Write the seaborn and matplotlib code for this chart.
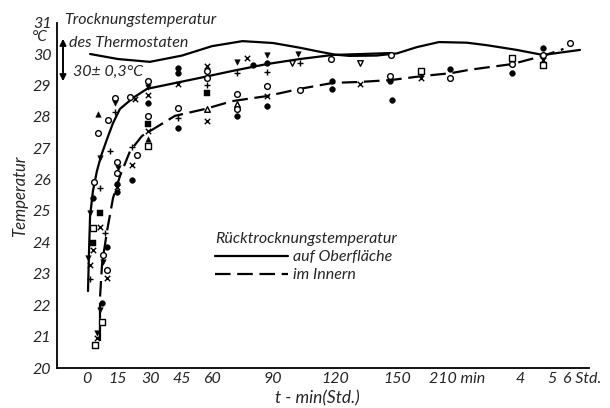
import matplotlib
matplotlib.use("Agg")
import matplotlib.pyplot as plt
import numpy as np
import pandas as pd
import seaborn as sns
from matplotlib.transforms import ScaledTranslation

# printed time scale is stretched piecewise (minutes, then hours)
tick_minutes = [0, 15, 30, 45, 60, 90, 120, 150, 180, 210, 240, 300, 360]
tick_labels = ["0", "15", "30", "45", "60", "90", "120", "150", "210 min", "", "4", "5", "6 Std."]
scale_px = [87, 118, 151, 182, 212, 273, 335, 397, 457, 487, 520, 552, 582]

# thermostat drying temperature (wavy line)
thermo_t = [1.5, 15, 29.5, 45, 60, 75, 90, 103, 112, 120, 127, 140, 150, 160, 171, 190, 210, 237, 283, 356]
thermo_T = [30.0, 29.84, 29.75, 29.95, 30.25, 30.41, 30.35, 30.2, 30.08, 29.98, 29.94, 29.95, 30.02,
            30.22, 30.38, 30.36, 30.28, 30.13, 29.97, 30.13]

# re-drying temperature, surface (solid)
surf_line_t = [0.5, 1.0, 1.5, 2.9, 4.8, 6.8, 9.7, 12.6, 15.9, 21.8, 28.2, 42, 54, 70, 87, 103, 119, 147]
surf_line_T = [22.45, 23.73, 24.84, 25.64, 26.27, 26.75, 27.29, 27.8, 28.25, 28.6, 28.89, 29.08,
               29.24, 29.46, 29.68, 29.84, 29.97, 30.03]

# re-drying temperature, interior (dashed)
int_line_t = [6.3, 6.3, 7.3, 9.7, 12.6, 15.9, 20.5, 25.9, 31.9, 41.6, 56.6, 70, 87, 103, 119, 132,
              147, 163, 177, 193, 233, 283, 323]
int_line_T = [20.86, 22.23, 23.31, 24.36, 25.41, 26.11, 26.91, 27.39, 27.64, 28.03, 28.25, 28.5,
              28.66, 28.89, 29.08, 29.11, 29.17, 29.3, 29.39, 29.5, 29.68, 29.94, 30.16]

# measured points near the surface curve
surf_t = [13.5, 13.5, 5.3, 13.5, 10.2, 5.3, 11.1, 6.3, 3.4, 6.3, 2.9, 20.5, 22.7,
          28.5, 28.5, 28.5, 28.5,
          1.5, 6.3, 2.9, 6.3, 2.9, 2.9, 0.5, 1.5, 1.5,
          43, 43, 43,
          57.5, 57.5, 57.5, 57.5,
          72.5, 77, 80, 72.5,
          87, 87, 87,
          102, 99, 103,
          118, 132, 147,
          283, 283, 283, 283, 336]
surf_T = [28.6, 28.44, 28.1, 28.15, 27.9, 27.48, 26.9, 26.68, 25.92, 25.73, 25.4, 28.62, 28.58,
          29.14, 28.95, 28.7, 28.45,
          24.94, 24.94, 24.46, 24.5, 23.97, 23.75, 23.5, 23.28, 22.83,
          29.55, 29.4, 29.04,
          29.62, 29.46, 29.24, 29.0,
          29.75, 29.88, 29.65, 29.4,
          29.97, 29.7, 29.43,
          30.0, 29.7, 29.7,
          29.84, 29.71, 29.97,
          30.19, 29.97, 29.8, 29.65, 30.35]
surf_kind = ["o", "v", "^", "+", "o", "o", "+", "v", "o", "+", "O", "o", "x",
             "o", "v", "x", "O",
             "v", "S", "s", "x", "S", "x", "v", "x", "+",
             "O", "O", "x",
             "x", "o", "o", "+",
             "v", "x", "O", "+",
             "v", "O", "+",
             "v", "V", "+",
             "o", "V", "o",
             "O", "o", "x", "s", "o"]

# measured points near the interior curve
int_t = [21.4, 23.6, 14.5, 15, 14.5, 14.5, 14.5, 14.5, 21.4, 21.4,
         8.7, 9.7, 7.7, 7.7, 9.7, 9.7, 7.3, 6.3, 7.3, 4.8, 4.8, 3.9,
         28.5, 28.5, 28.5, 28.5, 28.5,
         43, 43, 43,
         57.5, 57.5, 57.5,
         72.5, 72.5, 72.5, 72.5,
         87, 87, 87,
         103,
         118.5, 118.5,
         132,
         146.6, 146.6, 147.5,
         162, 162,
         176.5, 176.5,
         233, 233, 233]
int_T = [27.04, 26.78, 26.56, 26.37, 26.2, 25.86, 25.75, 25.6, 26.46, 25.98,
         24.3, 23.85, 23.6, 23.38, 23.12, 22.87, 22.07, 21.85, 21.46, 21.1, 20.95, 20.72,
         28.03, 27.77, 27.55, 27.29, 27.07,
         28.28, 27.96, 27.64,
         28.76, 28.25, 27.87,
         28.73, 28.41, 28.25, 28.03,
         28.98, 28.66, 28.34,
         28.85,
         29.14, 28.89,
         29.04,
         29.3, 29.14, 28.53,
         29.46, 29.24,
         29.52, 29.24,
         29.87, 29.68, 29.4]
int_kind = ["+", "o", "o", "v", "o", "O", "x", "O", "x", "O",
            "+", "O", "o", "v", "o", "x", "O", "v", "s", "v", "x", "s",
            "o", "S", "x", "^", "s",
            "o", "+", "O",
            "S", "A", "x",
            "o", "A", "o", "O",
            "o", "x", "O",
            "o",
            "O", "O",
            "x",
            "o", "O", "O",
            "s", "x",
            "O", "o",
            "s", "o", "O"]

marker_style = {
    "o": dict(marker="o", facecolor="white", edgecolor="black", s=17, linewidth=1),
    "O": dict(marker="o", color="black", edgecolor="black", s=17),
    "x": dict(marker="x", color="black", s=15, linewidth=1),
    "+": dict(marker="+", color="black", s=18, linewidth=1),
    "v": dict(marker="v", color="black", edgecolor="black", s=16),
    "V": dict(marker="v", facecolor="white", edgecolor="black", s=16, linewidth=1),
    "^": dict(marker="^", color="black", edgecolor="black", s=16),
    "A": dict(marker="^", facecolor="white", edgecolor="black", s=16, linewidth=1),
    "s": dict(marker="s", facecolor="white", edgecolor="black", s=14, linewidth=1),
    "S": dict(marker="s", color="black", edgecolor="black", s=14),
}

sns.set_style("white")
plt.rcParams["font.family"] = ["Lato", "DejaVu Sans"]
plt.rcParams["font.style"] = "italic"
plt.rcParams["font.size"] = 12

W, H = 610, 408
fig = plt.figure(figsize=(W / 100, H / 100), dpi=100)
ax = fig.add_axes([57 / W, 1 - 368 / H, (589 - 57) / W, (368 - 22.6) / H])


def px(x, y):
    return x / W, 1 - y / H


mins_ext = [-40] + tick_minutes + [420]
pos_ext = [87 - 40 * 31 / 15] + scale_px + [612]
ax.set_xscale("function", functions=(lambda m: np.interp(m, mins_ext, pos_ext),
                                     lambda p: np.interp(p, pos_ext, mins_ext)))

thermo = pd.DataFrame({"t": thermo_t, "T": thermo_T})
surf_line = pd.DataFrame({"t": surf_line_t, "T": surf_line_T})
int_line = pd.DataFrame({"t": int_line_t, "T": int_line_T})

sns.lineplot(data=thermo, x="t", y="T", sort=False, estimator=None, color="black", lw=1.6, ax=ax)
sns.lineplot(data=surf_line, x="t", y="T", sort=False, estimator=None, color="black", lw=1.6,
             ax=ax, label="auf Oberfläche")
sns.lineplot(data=int_line, x="t", y="T", sort=False, estimator=None, color="black", lw=1.6,
             ax=ax, label="im Innern")
ax.lines[-1].set_dashes([7, 3])

pts = pd.concat([pd.DataFrame({"t": surf_t, "T": surf_T, "kind": surf_kind}),
                 pd.DataFrame({"t": int_t, "T": int_T, "kind": int_kind})])
for kind, grp in pts.groupby("kind"):
    sns.scatterplot(data=grp, x="t", y="T", ax=ax, zorder=3, legend=False, **marker_style[kind])

ax.set_xlim(-14.5, 374)
ax.set_ylim(20, 31)
ax.set_yticks(range(20, 32))
ax.set_xticks(tick_minutes)
ax.set_xticklabels(tick_labels)
for lab, dx in zip(ax.get_xticklabels(), [0] * 8 + [0.08, 0, 0, 0, 0.09]):
    lab.set_transform(lab.get_transform() + ScaledTranslation(dx, 0, fig.dpi_scale_trans))
ax.tick_params(axis="both", direction="in", length=6, width=1, labelsize=11.5, pad=4, color="black")
ax.tick_params(axis="x", pad=3)
sns.despine(ax=ax)
for sp in ("left", "bottom"):
    ax.spines[sp].set_linewidth(1.3)
    ax.spines[sp].set_color("black")
ax.set_xlabel("")
ax.set_ylabel("")

fig.text(*px(20, 196), "Temperatur", rotation=90, ha="center", va="center", fontsize=12)
fig.text(*px(317, 398), "t - min(Std.)", ha="center", va="center", fontsize=12.5)
fig.text(*px(40, 37), "°C", ha="center", va="center", fontsize=11)
fig.text(*px(64, 20), "Trocknungstemperatur", ha="left", va="center", fontsize=11.5)
fig.text(*px(69, 43), "des Thermostaten", ha="left", va="center", fontsize=11.5)
fig.text(*px(73, 72), "30± 0,3°C", ha="left", va="center", fontsize=11.5)
ax.annotate("", xy=px(63, 36), xytext=px(63, 84), xycoords="figure fraction",
            textcoords="figure fraction",
            arrowprops=dict(arrowstyle="<|-|>", color="black", lw=1.4, mutation_scale=9))

leg = ax.legend(title="Rücktrocknungstemperatur", loc="upper left", frameon=False,
                bbox_to_anchor=px(207, 224), bbox_transform=fig.transFigure,
                handlelength=4.6, handletextpad=0.3, labelspacing=0.25, borderpad=0,
                fontsize=11.5, title_fontsize=11.5)
leg._legend_box.align = "left"

fig.savefig("out.png", dpi=100)
